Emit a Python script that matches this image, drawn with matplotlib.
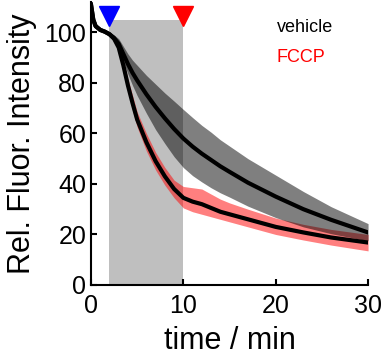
import numpy as np
import matplotlib
matplotlib.use("Agg")
import matplotlib.pyplot as plt

plt.rcParams['font.family'] = ['Liberation Sans', 'DejaVu Sans']

# time in minutes
t = [0, 0.25, 0.5, 1, 1.5, 2, 2.5, 3, 3.5, 4, 4.5, 5, 6, 7, 8, 9, 10,
     11, 12, 13, 14, 15, 17, 20, 23, 26, 30]

vehicle_mean = [111, 105, 102.5, 101, 100.3, 99.3, 97.8, 95.5, 91.5, 87.5, 84, 81,
                75.5, 70.5, 66, 61.8, 58, 54.8, 52, 49.5, 47, 44.8, 40.5, 35, 30, 25.8, 20.8]
vehicle_upper = [111.5, 105.5, 103, 101.5, 100.8, 100, 99, 97.5, 94.5, 91.5, 89, 87,
                 83, 79.5, 76, 72.8, 69.5, 66.3, 63.2, 60.5, 57.5, 55, 50, 43.5, 37, 31, 24.3]
vehicle_lower = [110.5, 104.5, 102, 100.5, 99.8, 98.6, 96.6, 93.5, 88.5, 83.5, 79, 75,
                 68, 61.5, 56, 50.8, 46.5, 43.3, 40.8, 38.5, 36.5, 34.8, 31.2, 26.7, 23, 20.3, 17.5]

fccp_mean = [111, 105, 102.5, 101, 100.3, 99.3, 97.5, 94, 87, 79, 72, 65.5,
             56.5, 49, 43, 38, 34.5, 33, 32, 30.5, 29, 28, 26, 23, 20.8, 18.8, 16.8]
fccp_upper = [111.5, 105.5, 103, 101.5, 100.8, 100, 98.5, 95.5, 89, 81.5, 75, 68.5,
              60, 52.5, 46.5, 41.5, 39, 38.5, 38, 36, 34, 32.5, 30, 26.5, 24, 22, 20]
fccp_lower = [110.5, 104.5, 102, 100.5, 99.8, 98.6, 96.5, 92.5, 85, 76.5, 69, 62.5,
              53, 45.5, 39.5, 34.5, 30.5, 29, 28, 27, 26, 25, 23, 20, 17.8, 15.8, 13.5]

stim_on = 2
stim_off = 10

fig = plt.figure(figsize=(3.83, 3.58), dpi=100)
ax = fig.add_axes([0.2376, 0.204, 0.7234, 0.79])

ax.fill_between([stim_on, stim_off], 0, 105, color='#bfbfbf', lw=0, zorder=0)

ax.fill_between(t, fccp_lower, fccp_upper, color='red', alpha=0.5, lw=0, zorder=1)
ax.fill_between(t, vehicle_lower, vehicle_upper, color='black', alpha=0.5, lw=0, zorder=2)
ax.plot(t, fccp_mean, color='black', lw=3, zorder=3)
ax.plot(t, vehicle_mean, color='black', lw=3, zorder=3)

ax.plot([stim_on], [106.5], marker='v', color='blue', markersize=14, clip_on=False, zorder=5)
ax.plot([stim_off], [106.5], marker='v', color='red', markersize=14, clip_on=False, zorder=5)

ax.text(0.671, 0.912, 'vehicle', color='black', fontsize=13, transform=ax.transAxes, va='center')
ax.text(0.671, 0.806, 'FCCP', color='red', fontsize=13, transform=ax.transAxes, va='center')

ax.set_xlim(0, 30)
ax.set_ylim(0, 112)
ax.set_xticks([0, 10, 20, 30])
ax.set_yticks([0, 20, 40, 60, 80, 100])
ax.tick_params(direction='in', length=4, width=1.5, labelsize=18)
ax.tick_params(axis='x', pad=6.5)
for s in ['top', 'right']:
    ax.spines[s].set_visible(False)
for s in ['left', 'bottom']:
    ax.spines[s].set_linewidth(1.5)

ax.set_xlabel('time / min', fontsize=22, labelpad=6)
ax.set_ylabel('Rel. Fluor. Intensity', fontsize=22, labelpad=5)

fig.savefig('out.png', dpi=100)
